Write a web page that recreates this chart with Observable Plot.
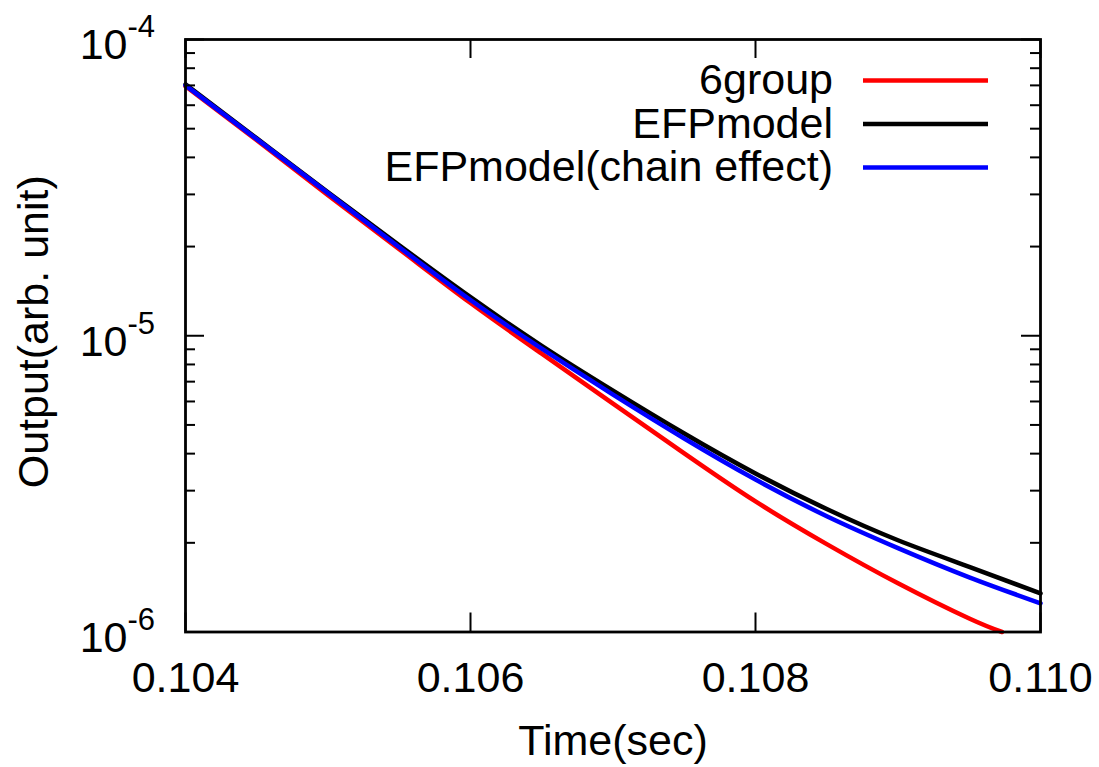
<!DOCTYPE html>
<html>
<head>
<meta charset="utf-8">
<script src="https://cdn.jsdelivr.net/npm/d3@7"></script>
<script src="https://cdn.jsdelivr.net/npm/@observablehq/plot@0.6"></script>
<style>
  html, body { margin: 0; padding: 0; background: #fff; }
  #chart svg { display: block; }
</style>
</head>
<body>
<div id="chart"></div>
<script>
// ---- data ----
const time = [0.104, 0.1045, 0.105, 0.1055, 0.106, 0.1065, 0.107, 0.1075, 0.108, 0.1085, 0.109, 0.1095, 0.110];
const efpModel = [7.06e-5, 4.64e-5, 3.05e-5, 2.02e-5, 1.35e-5, 9.25e-6, 6.53e-6, 4.68e-6, 3.43e-6, 2.60e-6, 2.04e-6, 1.66e-6, 1.35e-6];
const efpChain = [7.00e-5, 4.61e-5, 3.03e-5, 1.99e-5, 1.32e-5, 9.04e-6, 6.33e-6, 4.50e-6, 3.27e-6, 2.46e-6, 1.92e-6, 1.53e-6, 1.25e-6];
const timeSix = [0.104, 0.1045, 0.105, 0.1055, 0.106, 0.1065, 0.107, 0.1075, 0.108, 0.1085, 0.109, 0.1095, 0.10973];
const sixGroup = [6.95e-5, 4.57e-5, 2.98e-5, 1.96e-5, 1.29e-5, 8.70e-6, 5.90e-6, 4.01e-6, 2.76e-6, 1.98e-6, 1.46e-6, 1.11e-6, 1.0e-6];

const seriesNames = ["6group", "EFPmodel", "EFPmodel(chain effect)"];
const seriesColors = ["#ff0000", "#000000", "#0000ff"];

const xTicks = [0.104, 0.106, 0.108, 0.110];
const yMajor = [1e-6, 1e-5, 1e-4];
const yMinor = [2e-6, 3e-6, 4e-6, 5e-6, 6e-6, 7e-6, 8e-6, 9e-6, 2e-5, 3e-5, 4e-5, 5e-5, 6e-5, 7e-5, 8e-5, 9e-5];

// ---- tables ----
const redData = timeSix.map((t, i) => ({t, v: sixGroup[i]}));
const blackData = time.map((t, i) => ({t, v: efpModel[i]}));
const blueData = time.map((t, i) => ({t, v: efpChain[i]}));

const W = 1099, H = 767;
const mL = 185, mR = 59, mT = 39, mB = 135.5;
const innerW = W - mL - mR, innerH = H - mT - mB;
const font = "'Liberation Sans', Arial, Helvetica, sans-serif";
const FS = 43, SUP = 31;

function legendMark(index, scales, values, dims) {
  const g = d3.create("svg:g").attr("font-family", font);
  const right = dims.width - dims.marginRight;
  seriesNames.forEach((n, i) => {
    const y = dims.marginTop + 41.5 + i * 43.5;
    g.append("text")
      .attr("x", right - 207).attr("y", y).attr("dy", "0.32em")
      .attr("text-anchor", "end").attr("font-size", FS).attr("fill", "#000")
      .text(n);
    g.append("line")
      .attr("x1", right - 177).attr("x2", right - 52)
      .attr("y1", y).attr("y2", y)
      .attr("stroke", seriesColors[i]).attr("stroke-width", 4.5);
  });
  return g.node();
}

const chart = Plot.plot({
  width: W, height: H,
  marginLeft: mL, marginRight: mR, marginTop: mT, marginBottom: mB,
  style: {fontFamily: font, background: "#fff", color: "#000"},
  x: {domain: [0.104, 0.110], axis: null},
  y: {type: "log", domain: [1e-6, 1e-4], axis: null},
  marks: [
    // curves
    Plot.line(redData, {x: "t", y: "v", stroke: seriesColors[0], strokeWidth: 4.5, curve: "natural"}),
    Plot.line(blackData, {x: "t", y: "v", stroke: seriesColors[1], strokeWidth: 4.5, curve: "natural"}),
    Plot.line(blueData, {x: "t", y: "v", stroke: seriesColors[2], strokeWidth: 4.5, curve: "natural"}),
    // inward ticks
    Plot.tickX(xTicks, {x: d => d, insetTop: innerH - 19, stroke: "#000", strokeWidth: 2}),
    Plot.tickX(xTicks, {x: d => d, insetBottom: innerH - 19, stroke: "#000", strokeWidth: 2}),
    Plot.tickY(yMajor, {y: d => d, insetRight: innerW - 19, stroke: "#000", strokeWidth: 2}),
    Plot.tickY(yMajor, {y: d => d, insetLeft: innerW - 19, stroke: "#000", strokeWidth: 2}),
    Plot.tickY(yMinor, {y: d => d, insetRight: innerW - 10, stroke: "#000", strokeWidth: 2}),
    Plot.tickY(yMinor, {y: d => d, insetLeft: innerW - 10, stroke: "#000", strokeWidth: 2}),
    Plot.frame({stroke: "#000", strokeWidth: 2.8}),
    // x tick labels
    Plot.text(xTicks, {x: d => d, frameAnchor: "bottom", text: d => d3.format(".3f")(d),
      textAnchor: "middle", lineAnchor: "middle", dy: 46, fontSize: FS, fill: "#000"}),
    // y tick labels: 10 with superscript exponent
    Plot.text(yMajor, {y: d => d, frameAnchor: "left", text: () => "10",
      textAnchor: "end", lineAnchor: "middle", dx: -58, dy: 6, fontSize: FS, fill: "#000"}),
    Plot.text(yMajor, {y: d => d, frameAnchor: "left", text: d => "-" + Math.round(-Math.log10(d)),
      textAnchor: "start", lineAnchor: "middle", dx: -58, dy: -12, fontSize: SUP, fill: "#000"}),
    // axis titles
    Plot.text(["Time(sec)"], {frameAnchor: "bottom", textAnchor: "middle", lineAnchor: "middle",
      dy: 109, fontSize: FS, fill: "#000"}),
    Plot.text(["Output(arb. unit)"], {frameAnchor: "left", textAnchor: "middle", lineAnchor: "middle",
      rotate: -90, dx: -151, dy: -4, fontSize: FS, fill: "#000"}),
    // legend
    legendMark
  ]
});

document.getElementById("chart").appendChild(chart);
</script>
</body>
</html>
